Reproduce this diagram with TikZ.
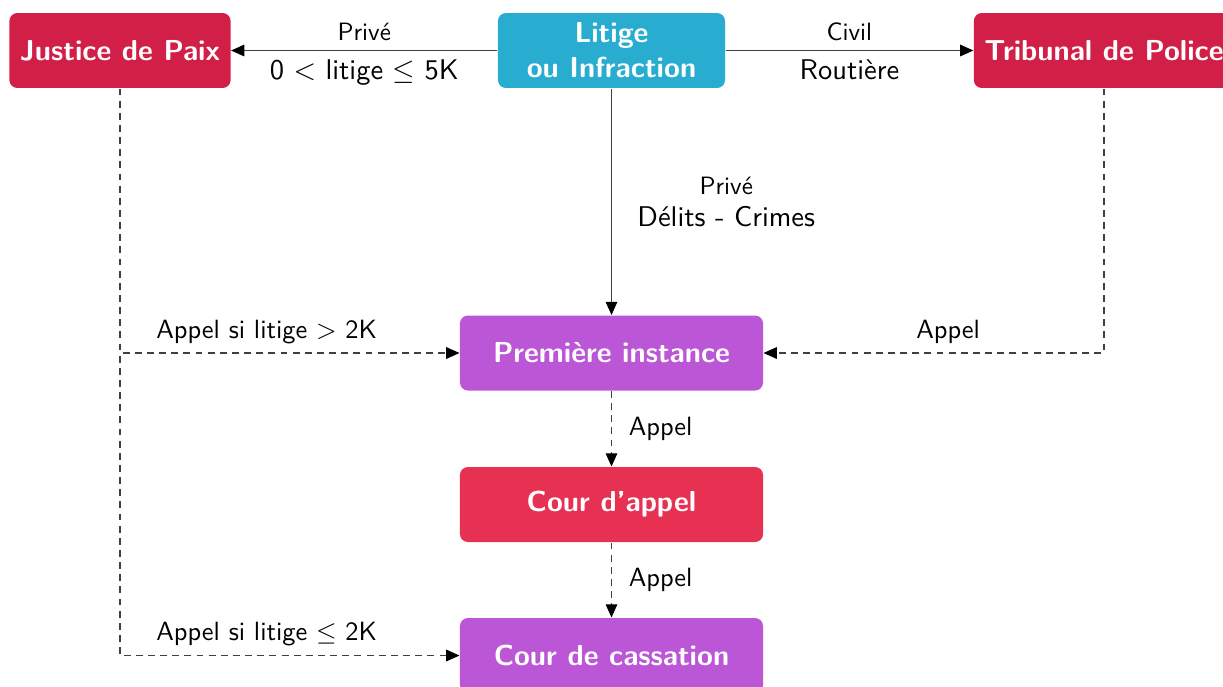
\documentclass[tikz,border=0pt]{standalone}
\usepackage{fontspec}
\renewcommand{\familydefault}{\sfdefault}
\usetikzlibrary{arrows.meta}

\definecolor{rougepaix}{RGB}{209,31,71}
\definecolor{rougeappel}{RGB}{230,49,83}
\definecolor{bleulitige}{RGB}{40,173,208}
\definecolor{violetcour}{RGB}{187,86,214}

\newcommand{\petit}{\fontsize{9.5}{11}\selectfont}
\newcommand{\grand}{\fontsize{10.8}{13.3}\selectfont}

\tikzset{every picture/.style={line width=0.4pt}}
\tikzset{
  court/.style={rounded corners=3pt, text=white, align=center,
    font=\fontsize{10.95}{13.3}\selectfont\bfseries,
    minimum height=28.4pt, inner xsep=4pt},
  lien/.style={draw=black!75, -{Triangle[length=5pt,width=4.4pt,fill=black,color=black]}},
  appel/.style={lien, dash pattern=on 2.6pt off 2pt},
  lbl/.style={font=\fontsize{10}{12}\selectfont}
}

\begin{document}
\begin{tikzpicture}[x=0.3788pt,y=0.3788pt,yscale=-1,xscale=1]
\useasboundingbox (0,0) rectangle (1223,686); %crop as the 1223 x 686 original

% Text Node
\node [court, fill=rougepaix, minimum width=83.3pt] (paix) at (120,50.5) {Justice de Paix};
% Text Node
\node [court, fill=bleulitige, minimum width=86pt] (litige) at (611.5,50.5) {Litige\\ou Infraction};
% Text Node
\node [court, fill=rougepaix] (police) at (1104,50.5) {Tribunal de Police};
% Text Node
\node [court, fill=violetcour, minimum width=114.8pt] (instance) at (611.5,353) {Première instance};
% Text Node
\node [court, fill=rougeappel, minimum width=114.8pt] (cappel) at (611.5,504.5) {Cour d'appel};
% Text Node
\node [court, fill=violetcour, minimum width=114.8pt] (cassation) at (611.5,655.5) {Cour de cassation};

% Connection
\draw [lien] (litige) -- (paix) node [midway, above, black] {\petit Privé} node [midway, below, black] {\grand 0 $<$ litige $\leq$ 5K};
% Connection
\draw [lien] (litige) -- (police) node [midway, above, black] {\petit Civil} node [midway, below, black] {\grand Routière};
% Connection
\draw [lien] (litige) -- (instance) node [midway, right, xshift=6.3pt, align=center, black] {\petit Privé\\\grand Délits - Crimes};
% Connection
\draw [appel] (paix) |- (instance) node [pos=0.716, above, lbl, black] {Appel si litige $>$ 2K};
% Connection
\draw [appel] (paix) |- (cassation) node [pos=0.716, above, lbl, black] {Appel si litige $\leq$ 2K};
% Connection
\draw [appel] (police) |- (instance) node [pos=0.729, above, lbl, black] {Appel};
% Connection
\draw [appel] (instance) -- (cappel) node [midway, right, xshift=3pt, lbl, black] {Appel};
% Connection
\draw [appel] (cappel) -- (cassation) node [midway, right, xshift=3pt, lbl, black] {Appel};

\end{tikzpicture}
\end{document}
